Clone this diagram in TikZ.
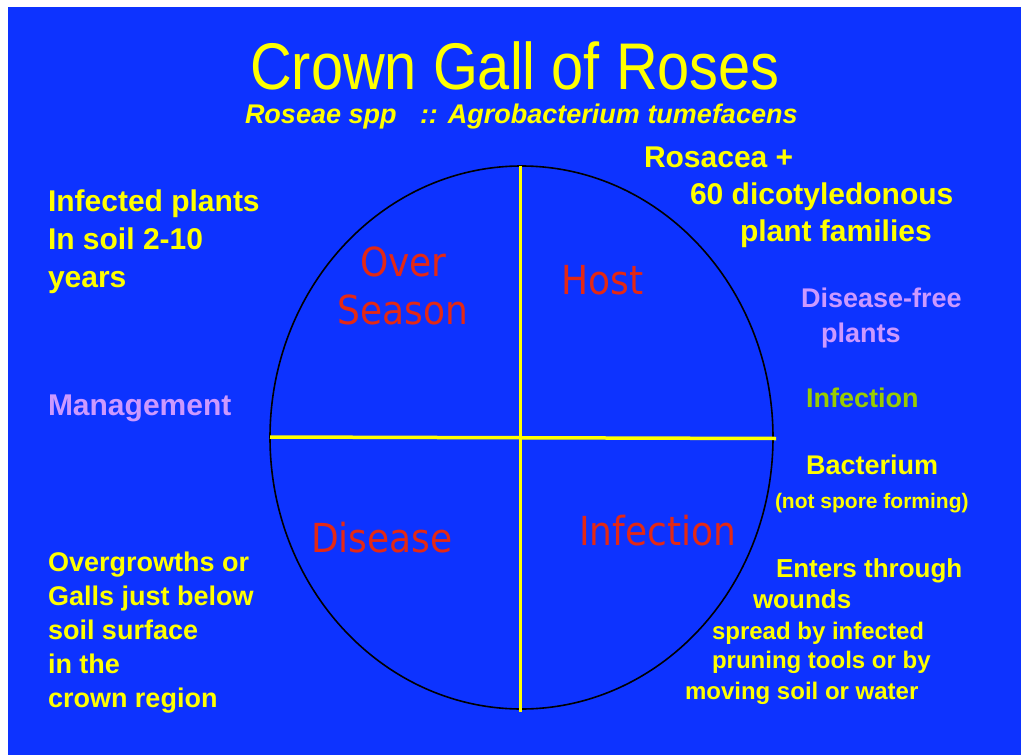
\documentclass[tikz,border=0pt]{standalone}
\usepackage{fontspec}
\usepackage{graphicx}
\usetikzlibrary{shapes.geometric}
\setmainfont{Liberation Sans}
\newfontfamily\dv{DejaVu Sans}
\definecolor{bg}{RGB}{13,51,255}
\definecolor{ylw}{RGB}{255,255,0}
\definecolor{lav}{RGB}{204,153,255}
\definecolor{grn}{RGB}{153,204,0}
\definecolor{rd}{RGB}{228,40,20}
\tikzset{
  txt/.style={anchor=base west, inner sep=0pt, outer sep=0pt, text=ylw},
  bt/.style={txt, font=\bfseries\fontsize{#1}{#1}\selectfont},
  quad/.style={anchor=base west, inner sep=0pt, text=rd, font=\dv\fontsize{40}{40}\selectfont},
  divline/.style={draw=ylw, line width=3.5pt},
}
\newcommand{\qs}[1]{\scalebox{0.9}[1]{#1}}
\begin{document}
\begin{tikzpicture}[x=1pt,y=-1pt]
\useasboundingbox (0,0) rectangle (1021,755);
\fill[white] (0,0) rectangle (1021,755);
\fill[bg] (8,7) rectangle (1021,755);
% title
\node[txt, anchor=base, font=\fontsize{66}{66}\selectfont] (title) at (515,89) {\scalebox{0.875}[1]{Crown Gall of Roses}};
\node[txt, font=\bfseries\itshape\fontsize{27}{27}\selectfont] (sub1) at (245,123) {Roseae spp};
\node[txt, font=\bfseries\itshape\fontsize{27}{27}\selectfont] (sub2) at (420,123) {:: Agrobacterium tumefacens};
% circle and dividers
\node[draw=black, line width=1.6pt, ellipse, minimum width=503pt, minimum height=543pt, inner sep=0pt] (circ) at (521.5,437.5) {};
\coordinate (vt) at (520.7,166);
\coordinate (vb) at (520.7,712);
\coordinate (hl) at (270,437);
\coordinate (hr) at (776,438.5);
\draw[divline] (vt) -- (vb);
\draw[divline] (hl) -- (hr);
% quadrant labels
\node[quad] (over) at (360,276) {\qs{Over}};
\node[quad] (season) at (337,324) {\qs{Season}};
\node[quad] (host) at (561,294) {\qs{Host}};
\node[quad] (disease) at (311,552) {\qs{Disease}};
\node[quad] (infq) at (579,545) {\qs{Infection}};
% right top
\node[bt=30] (r1) at (644,167) {Rosacea +};
\node[bt=30] (r2) at (690,204) {60 dicotyledonous};
\node[bt=30] (r3) at (740,241) {plant families};
% left top
\node[bt=30] (l1) at (48,211) {Infected plants};
\node[bt=30] (l2) at (48,249) {In soil 2-10};
\node[bt=30] (l3) at (48,287) {years};
\node[bt=30, text=lav] (mgmt) at (48,415) {Management};
% right middle
\node[bt=27, text=lav] (df1) at (801,307) {Disease-free};
\node[bt=27, text=lav] (df2) at (821,342) {plants};
\node[bt=27, text=grn] (inf) at (806,407) {Infection};
\node[bt=27] (bact) at (806,474) {Bacterium};
\node[bt=21] (nsf) at (775,508) {(not spore forming)};
% right bottom
\node[bt=26] (e1) at (776,577) {Enters through};
\node[bt=26] (e2) at (753,608) {wounds};
\node[bt=24] (e3) at (712,639) {spread by infected};
\node[bt=24] (e4) at (712,668) {pruning tools or by};
\node[bt=24] (e5) at (685,699) {moving soil or water};
% left bottom
\node[bt=27] (g1) at (48,571) {Overgrowths or};
\node[bt=27] (g2) at (48,605) {Galls just below};
\node[bt=27] (g3) at (48,639) {soil surface};
\node[bt=27] (g4) at (48,673) {in the};
\node[bt=27] (g5) at (48,707) {crown region};
\end{tikzpicture}
\end{document}
